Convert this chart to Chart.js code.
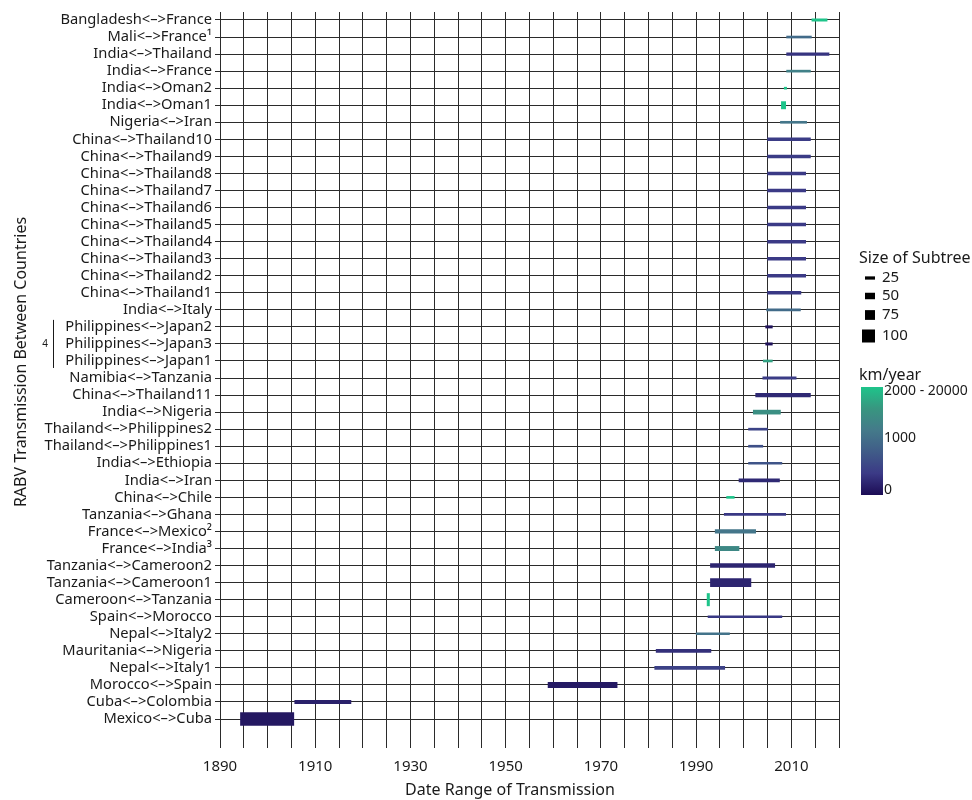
<!DOCTYPE html>
<html>
<head>
<meta charset="utf-8">
<script src="https://cdn.jsdelivr.net/npm/chart.js@4"></script>
<style>
  html, body { margin: 0; padding: 0; background: #fff; }
  #wrap { width: 972px; height: 800px; }
</style>
</head>
<body>
<div id="wrap"><canvas id="chart" width="972" height="800"></canvas></div>
<script>
/* --- data --- */
const routes = [
  'Bangladesh<–>France', 'Mali<–>France¹', 'India<–>Thailand', 'India<–>France',
  'India<–>Oman2', 'India<–>Oman1', 'Nigeria<–>Iran', 'China<–>Thailand10',
  'China<–>Thailand9', 'China<–>Thailand8', 'China<–>Thailand7', 'China<–>Thailand6',
  'China<–>Thailand5', 'China<–>Thailand4', 'China<–>Thailand3', 'China<–>Thailand2',
  'China<–>Thailand1', 'India<–>Italy', 'Philippines<–>Japan2', 'Philippines<–>Japan3',
  'Philippines<–>Japan1', 'Namibia<–>Tanzania', 'China<–>Thailand11', 'India<–>Nigeria',
  'Thailand<–>Philippines2', 'Thailand<–>Philippines1', 'India<–>Ethiopia', 'India<–>Iran',
  'China<–>Chile', 'Tanzania<–>Ghana', 'France<–>Mexico²', 'France<–>India³',
  'Tanzania<–>Cameroon2', 'Tanzania<–>Cameroon1', 'Cameroon<–>Tanzania', 'Spain<–>Morocco',
  'Nepal<–>Italy2', 'Mauritania<–>Nigeria', 'Nepal<–>Italy1', 'Morocco<–>Spain',
  'Cuba<–>Colombia', 'Mexico<–>Cuba'
];

const startYear = [
  2014.3, 2009.0, 2009.0, 2009.0, 2008.5, 2007.9, 2007.7, 2005.0,
  2005.0, 2005.0, 2005.0, 2005.0, 2005.0, 2005.0, 2005.0, 2005.0,
  2005.0, 2004.8, 2004.6, 2004.6, 2004.1, 2004.0, 2002.5, 2002.0,
  2001.0, 2001.0, 2001.0, 1999.0, 1996.4, 1995.9, 1994.0, 1994.0,
  1993.0, 1993.0, 1992.3, 1992.5, 1990.0, 1981.6, 1981.3, 1958.9,
  1905.7, 1894.3
];

const endYear = [
  2017.5, 2014.2, 2017.9, 2014.0, 2009.0, 2008.8, 2013.2, 2014.0,
  2014.0, 2013.0, 2013.0, 2013.0, 2013.0, 2013.0, 2013.0, 2013.0,
  2012.0, 2011.9, 2006.0, 2006.0, 2006.0, 2011.0, 2014.0, 2007.7,
  2005.0, 2004.0, 2008.0, 2007.5, 1998.0, 2008.8, 2002.5, 1999.0,
  2006.5, 2001.5, 1992.8, 2008.0, 1997.0, 1993.1, 1996.0, 1973.4,
  1917.5, 1905.5
];

const subtreeSize = [
  18, 15, 20, 15, 15, 56, 15, 22,
  22, 22, 22, 22, 22, 22, 22, 22,
  22, 15, 18, 18, 15, 18, 28, 31,
  15, 15, 15, 23, 15, 15, 28, 33,
  30, 64, 95, 15, 15, 23, 23, 41,
  25, 100
];

const kmPerYear = [
  2500, 1000, 350, 1300, 2200, 2500, 1150, 420,
  420, 400, 400, 400, 400, 400, 400, 400,
  380, 1000, 50, 50, 1700, 420, 250, 1500,
  500, 650, 700, 250, 2500, 380, 1150, 1400,
  220, 220, 3000, 380, 1100, 300, 480, 120,
  180, 100
];

const xTicks = [1890, 1910, 1930, 1950, 1970, 1990, 2010];
const sizeLegend = [25, 50, 75, 100];

/* --- styling helpers --- */
const FONT = "'Noto Sans', sans-serif";
const TEXT = '#1a1a1a';
const SPEED_STOPS = [
  [0, [28, 12, 85]],
  [400, [59, 58, 134]],
  [800, [64, 92, 136]],
  [1200, [68, 122, 138]],
  [1600, [56, 150, 128]],
  [2000, [30, 196, 138]]
];

function speedColor(v) {
  const s = Math.min(v, 2000);
  for (let i = 1; i < SPEED_STOPS.length; i++) {
    const [v1, c1] = SPEED_STOPS[i];
    const [v0, c0] = SPEED_STOPS[i - 1];
    if (s <= v1) {
      const t = (s - v0) / (v1 - v0);
      const c = c0.map((a, k) => Math.round(a + (c1[k] - a) * t));
      return `rgb(${c[0]},${c[1]},${c[2]})`;
    }
  }
  return 'rgb(30,196,138)';
}

const thickness = s => Math.max(2, s * 0.13);

const datasets = routes.map((r, i) => ({
  label: r,
  data: [{ x: [startYear[i], endYear[i]], y: i + 1 }],
  backgroundColor: speedColor(kmPerYear[i]),
  barThickness: thickness(subtreeSize[i]),
  grouped: false,
  borderWidth: 0
}));

/* --- titles, bracket note and legends --- */
const extrasPlugin = {
  id: 'extras',
  afterDraw(chart) {
    const ctx = chart.ctx;
    const ys = chart.scales.y;
    ctx.save();
    ctx.fillStyle = TEXT;

    // axis titles
    ctx.font = `16px ${FONT}`;
    ctx.textAlign = 'center';
    ctx.textBaseline = 'middle';
    ctx.fillText('Date Range of Transmission', 510, 790);
    ctx.save();
    ctx.translate(21, 362);
    ctx.rotate(-Math.PI / 2);
    ctx.fillText('RABV Transmission Between Countries', 0, 0);
    ctx.restore();

    // bracket around the Philippines<->Japan rows
    const yTop = ys.getPixelForValue(19) - 7;
    const yBot = ys.getPixelForValue(21) + 7;
    ctx.strokeStyle = TEXT;
    ctx.lineWidth = 1;
    ctx.beginPath();
    ctx.moveTo(53.5, yTop);
    ctx.lineTo(53.5, yBot);
    ctx.stroke();
    ctx.font = `10px ${FONT}`;
    ctx.fillText('4', 45, ys.getPixelForValue(20));

    // size legend
    ctx.textAlign = 'left';
    ctx.font = `16px ${FONT}`;
    ctx.fillText('Size of Subtree', 859, 258);
    ctx.font = `15px ${FONT}`;
    const sizeY = [278, 296, 315, 336];
    sizeLegend.forEach((s, k) => {
      const h = thickness(s);
      const w = Math.max(10, h);
      ctx.fillStyle = '#000';
      ctx.fillRect(875 - w, sizeY[k] - h / 2, w, h);
      ctx.fillStyle = TEXT;
      ctx.fillText(String(s), 882, sizeY[k]);
    });

    // speed legend
    ctx.font = `16px ${FONT}`;
    ctx.fillText('km/year', 859, 375);
    const gTop = 387, gBot = 495;
    const grad = ctx.createLinearGradient(0, gBot, 0, gTop);
    SPEED_STOPS.forEach(([v]) => grad.addColorStop(v / 2000, speedColor(v)));
    ctx.fillStyle = grad;
    ctx.fillRect(861, gTop, 22, gBot - gTop);
    ctx.fillStyle = TEXT;
    ctx.font = `14px ${FONT}`;
    ctx.fillText('2000 - 20000', 884, 391);
    ctx.fillText('1000', 884, 438);
    ctx.fillText('0', 884, 490);
    ctx.restore();
  }
};

new Chart(document.getElementById('chart'), {
  type: 'bar',
  data: { datasets },
  options: {
    indexAxis: 'y',
    responsive: false,
    animation: false,
    layout: { padding: { top: 12, right: 133, left: 0, bottom: 0 } },
    plugins: {
      legend: { display: false },
      tooltip: { enabled: false }
    },
    scales: {
      x: {
        type: 'linear',
        min: 1890,
        max: 2020,
        border: { display: false },
        grid: { color: '#2b2b2b', lineWidth: 1, drawTicks: false },
        ticks: {
          stepSize: 5,
          autoSkip: false,
          maxRotation: 0,
          padding: 10,
          color: TEXT,
          font: { family: FONT, size: 15 },
          callback: v => (xTicks.includes(v) ? String(v) : '')
        },
        afterFit: s => { s.height = 52; }
      },
      y: {
        type: 'linear',
        reverse: true,
        offset: false,
        min: 0.531,
        max: 43.7,
        border: { display: false },
        grid: { offset: false, color: '#2b2b2b', lineWidth: 1, drawTicks: true, tickLength: 5 },
        afterBuildTicks: s => { s.ticks = routes.map((r, i) => ({ value: i + 1 })); },
        ticks: {
          autoSkip: false,
          padding: 3,
          color: TEXT,
          font: { family: FONT, size: 14.7 },
          callback: v => routes[v - 1] || ''
        },
        afterFit: s => { s.width = 220; }
      }
    }
  },
  plugins: [extrasPlugin]
});
</script>
</body>
</html>
